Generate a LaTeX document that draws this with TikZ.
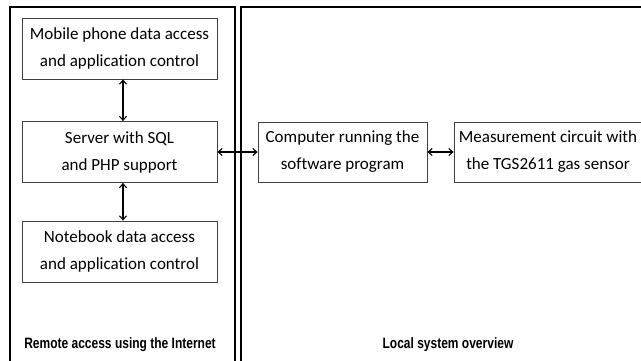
\documentclass[tikz,border=0pt]{standalone}
\usepackage{fontspec}
\setmainfont[Ligatures={NoCommon,NoRare}]{Carlito}
\newfontfamily\capfont{Liberation Sans}
\usetikzlibrary{arrows.meta}
\begin{document}
\begin{tikzpicture}[x=1pt,y=-1pt,
  blk/.style={draw=black!75,line width=0.8pt,fill=white,inner sep=0pt,align=center,
    font=\fontsize{17}{27}\selectfont},
  panel/.style={draw=black,line width=1.4pt},
  link/.style={{Straight Barb[length=4pt,width=7pt]}-{Straight Barb[length=4pt,width=7pt]},line width=1.1pt},
  captext/.style={font=\capfont\bfseries\fontsize{15}{17}\selectfont,xscale=0.8,inner sep=0pt}]
\useasboundingbox (0,0) rectangle (641,360);
\draw[panel] (10,370) -- (10,7) -- (235,7) -- (235,370);
\draw[panel] (241,370) -- (241,7) -- (660,7);
\node[blk,minimum width=195pt,minimum height=61pt] (mob) at (119.5,48.5) {Mobile phone data access\\and application control};
\node[blk,minimum width=195pt,minimum height=61pt] (srv) at (119.5,152) {Server with SQL\\and PHP support};
\node[blk,minimum width=195pt,minimum height=61pt] (nb) at (119.5,251.5) {Notebook data access\\and application control};
\node[blk,minimum width=169pt,minimum height=60pt] (cmp) at (342.5,152) {Computer running the\\software program};
\node[blk,minimum width=188pt,minimum height=60pt] (mea) at (548,152) {Measurement circuit with\\the TGS2611 gas sensor};
\draw[link] (mob.south -| 123,0) -- (srv.north -| 123,0);
\draw[link] (srv.south -| 123,0) -- (nb.north -| 123,0);
\draw[link] (srv) -- (cmp);
\draw[link] (cmp) -- (mea);
\node[captext] (lc) at (120,345) {Remote access using the Internet};
\node[captext] (rc) at (448,345) {Local system overview};
\end{tikzpicture}
\end{document}
